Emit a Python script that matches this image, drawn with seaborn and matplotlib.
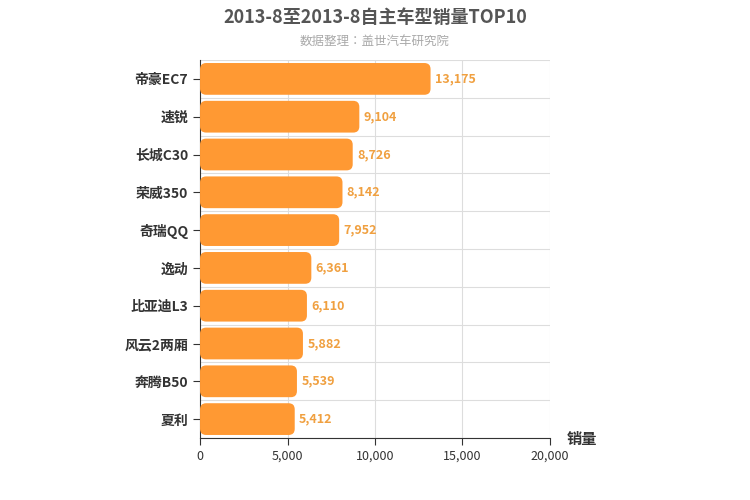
import matplotlib
matplotlib.use("Agg")
import matplotlib.pyplot as plt
from matplotlib import font_manager
import seaborn as sns
import pandas as pd
from matplotlib.patches import FancyBboxPatch

cjk = sorted({f.name for f in font_manager.fontManager.ttflist if "Sans CJK" in f.name})
cjk_name = "Noto Sans CJK SC" if "Noto Sans CJK SC" in cjk else (cjk[0] if cjk else "DejaVu Sans")
plt.rcParams["font.family"] = "sans-serif"
plt.rcParams["font.sans-serif"] = [cjk_name, "DejaVu Sans"]

models = ["帝豪EC7", "速锐", "长城C30", "荣威350", "奇瑞QQ", "逸动", "比亚迪L3", "风云2两厢", "奔腾B50", "夏利"]
sales = [13175, 9104, 8726, 8142, 7952, 6361, 6110, 5882, 5539, 5412]
xticks = [0, 5000, 10000, 15000, 20000]

df = pd.DataFrame({"model": models, "sales": sales})

fig = plt.figure(figsize=(7.5, 5), dpi=100)
ax = fig.add_axes([0.2667, 0.124, 0.4666, 0.756])
sns.barplot(data=df, y="model", x="sales", color="#ff9933", width=0.84, ax=ax)

# swap plain bars for rounded ones (x units per px ~57, y units per px ~0.0265)
for p in list(ax.patches):
    x, y, w, h = p.get_x(), p.get_y(), p.get_width(), p.get_height()
    p.remove()
    ax.add_patch(FancyBboxPatch((x, y), w, h, boxstyle="round,pad=0,rounding_size=350",
                                mutation_aspect=0.000463, facecolor="#ff9933",
                                edgecolor="none", zorder=3))

for i, v in enumerate(sales):
    ax.text(v + 250, i, f"{v:,}", va="center", ha="left", fontsize=9,
            color="#f0a040", fontweight="bold", zorder=4)

ax.set_xlim(0, 20000)
ax.set_ylim(len(models) - 0.5, -0.5)
ax.set_xticks(xticks)
ax.set_xticklabels([f"{t:,}" for t in xticks], fontsize=9, color="#333333")
ax.set_yticks(range(len(models)))
ax.set_yticklabels(models, fontsize=10, fontweight="bold", color="#333333")
ax.set_xlabel("")
ax.set_ylabel("")
for t in xticks[1:]:
    ax.axvline(t, color="#dddddd", lw=0.8, zorder=0)
for i in range(len(models) + 1):
    ax.axhline(i - 0.5, color="#dddddd", lw=0.8, zorder=0)
for s in ["top", "right"]:
    ax.spines[s].set_visible(False)
ax.spines["left"].set_color("#333333")
ax.spines["bottom"].set_color("#333333")
ax.tick_params(axis="y", length=5, color="#333333")
ax.tick_params(axis="x", length=5, color="#333333")

fig.text(0.5, 0.965, "2013-8至2013-8自主车型销量TOP10", ha="center", va="center",
         fontsize=13, fontweight="bold", color="#555555")
fig.text(0.5, 0.918, "数据整理：盖世汽车研究院", ha="center", va="center",
         fontsize=9, color="#aaaaaa")
fig.text(0.755, 0.122, "销量", ha="left", va="center", fontsize=11,
         fontweight="bold", color="#333333")

fig.savefig("out.png", dpi=100)
